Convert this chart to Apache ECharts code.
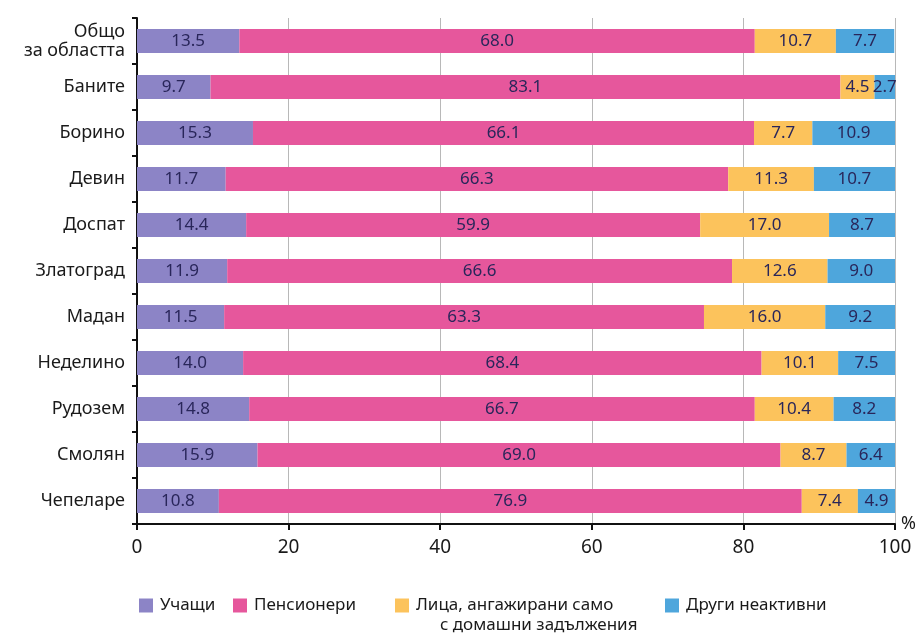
<!DOCTYPE html>
<html><head><meta charset="utf-8">
<script src="https://cdn.jsdelivr.net/npm/echarts@6/dist/echarts.min.js"></script>
<style>html,body{margin:0;padding:0;background:#fff}#c{width:922px;height:641px}</style>
</head><body><div id="c"></div>
<script>
const categories = ['Общо\nза областта','Баните','Борино','Девин','Доспат','Златоград','Мадан','Неделино','Рудозем','Смолян','Чепеларе'];
const students   = [13.5, 9.7, 15.3, 11.7, 14.4, 11.9, 11.5, 14.0, 14.8, 15.9, 10.8];
const pensioners = [68.0, 83.1, 66.1, 66.3, 59.9, 66.6, 63.3, 68.4, 66.7, 69.0, 76.9];
const household  = [10.7, 4.5, 7.7, 11.3, 17.0, 12.6, 16.0, 10.1, 10.4, 8.7, 7.4];
const others     = [7.7, 2.7, 10.9, 10.7, 8.7, 9.0, 9.2, 7.5, 8.2, 6.4, 4.9];
const seriesNames = ['Учащи','Пенсионери','Лица, ангажирани само с домашни задължения','Други неактивни'];
const xTicks = [0,20,40,60,80,100];

const FONT = '"Noto Sans",sans-serif';
const colors = ['#8c84c6','#e6579c','#fcc35c','#4ea6dc'];
const chart = echarts.init(document.getElementById('c'));
const mk = (name, data, color) => ({
  name, type:'bar', stack:'s', data, barWidth:24,
  itemStyle:{color},
  label:{show:true, position:'inside', color:'#29265a', fontFamily:FONT, fontSize:17,
    formatter:p=>p.value.toFixed(1)}
});
const legendItem = (name, left, text) => ({
  data:[name], left, top:592, itemWidth:14, itemHeight:14, itemGap:0, icon:'rect',
  textStyle:{fontFamily:FONT, fontSize:17, color:'#1a1a1a', padding:[0,0,0,2]},
  formatter: text ? ()=>text : undefined, selectedMode:false
});
chart.setOption({
  animation:false,
  color:colors,
  grid:{left:137, right:27, top:18, bottom:117, containLabel:false, outerBoundsMode:'none'},
  xAxis:{type:'value', min:0, max:100, interval:20,
    name:'%', nameLocation:'end', nameGap:6,
    nameTextStyle:{fontFamily:FONT, fontSize:18, color:'#1a1a1a', verticalAlign:'middle', padding:[0,0,12,0]},
    axisLine:{show:true, lineStyle:{color:'#111', width:2}},
    axisTick:{show:true, length:6, lineStyle:{color:'#111', width:2}},
    axisLabel:{fontFamily:FONT, fontSize:19, color:'#1a1a1a', margin:14,
      formatter:v=>xTicks.includes(v)?String(v):''},
    splitLine:{show:true, lineStyle:{color:'#b8b8b8', width:1}}
  },
  yAxis:{type:'category', data:categories, inverse:true,
    axisLine:{show:true, lineStyle:{color:'#111', width:2}},
    axisTick:{show:true, length:5, lineStyle:{color:'#111', width:2}},
    axisLabel:{fontFamily:FONT, fontSize:18, color:'#1a1a1a', margin:12, lineHeight:19, align:'right'}
  },
  legend:[
    legendItem(seriesNames[0], 134),
    legendItem(seriesNames[1], 228),
    legendItem(seriesNames[2], 390, 'Лица, ангажирани само'),
    legendItem(seriesNames[3], 660)
  ],
  graphic:[{type:'text', left:440, top:617,
    style:{text:'с домашни задължения', font:'17px '+FONT, fill:'#1a1a1a'}}],
  series:[
    mk(seriesNames[0], students, colors[0]),
    mk(seriesNames[1], pensioners, colors[1]),
    mk(seriesNames[2], household, colors[2]),
    mk(seriesNames[3], others, colors[3])
  ]
});
</script></body></html>
